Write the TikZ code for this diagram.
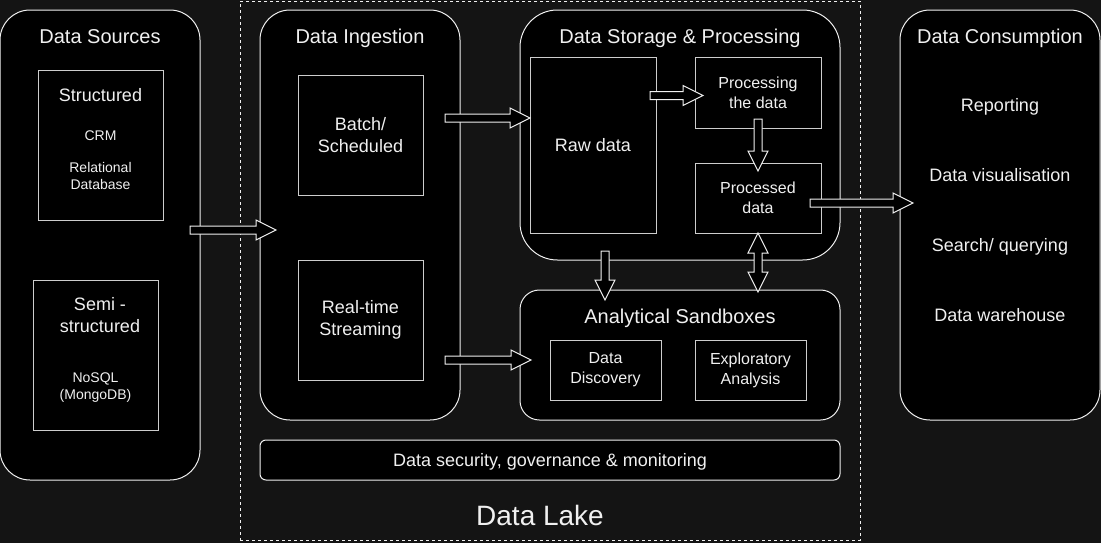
\documentclass[tikz,border=0pt]{standalone}
\usepackage{fontspec}
\setmainfont{Liberation Sans}
\usepackage{xcolor}
\usepackage{tikz}
\usetikzlibrary{calc, positioning}

\definecolor{bgdark}{RGB}{20,20,20}
\definecolor{lineW}{RGB}{240,240,240}
\definecolor{lineG}{RGB}{205,205,205}

\newcommand{\txtTitle}{\fontsize{15}{18}\selectfont}
\newcommand{\txtMain}{\fontsize{13.5}{16.4}\selectfont}
\newcommand{\txtMid}{\fontsize{12}{15}\selectfont}
\newcommand{\txtSmall}{\fontsize{10.5}{12.75}\selectfont}
\newcommand{\txtLake}{\fontsize{21}{25}\selectfont}

% block arrow from #1 to #2
\newcommand{\flowarrow}[2]{%
  \coordinate (fa-h) at ($(#2)!15pt!(#1)$);
  \draw[blockarrow] ($(#1)!3pt!90:(#2)$) -- ($(fa-h)!3pt!90:(#2)$)
    -- ($(fa-h)!7.5pt!90:(#2)$) -- (#2) -- ($(fa-h)!7.5pt!-90:(#2)$)
    -- ($(fa-h)!3pt!-90:(#2)$) -- ($(#1)!3pt!-90:(#2)$) -- cycle;
}
% block arrow with two heads
\newcommand{\flowarrowboth}[2]{%
  \coordinate (fa-h) at ($(#2)!15pt!(#1)$);
  \coordinate (fa-t) at ($(#1)!15pt!(#2)$);
  \draw[blockarrow] (#1) -- ($(fa-t)!7.5pt!90:(#2)$) -- ($(fa-t)!3pt!90:(#2)$)
    -- ($(fa-h)!3pt!90:(#2)$) -- ($(fa-h)!7.5pt!90:(#2)$) -- (#2)
    -- ($(fa-h)!7.5pt!-90:(#2)$) -- ($(fa-h)!3pt!-90:(#2)$)
    -- ($(fa-t)!3pt!-90:(#2)$) -- ($(fa-t)!7.5pt!-90:(#2)$) -- cycle;
}

\tikzset{
  groupbox/.style={draw=lineW, fill=black, line width=0.75pt, inner sep=0pt},
  itembox/.style={draw=lineG, fill=black, line width=0.75pt, inner sep=0pt,
    text=lineW, align=center},
  txt/.style={text=lineW, inner sep=0pt, align=center},
  blockarrow/.style={draw=lineW, fill=black, line width=0.75pt, line join=miter},
}

\begin{document}
\begin{tikzpicture}[x=0.75pt, y=-0.75pt]
    % Hintergrund
    \fill[bgdark] (0,0) rectangle (1101,543);
    \useasboundingbox (0,0) rectangle (1101,543);

    % Data Lake (gestrichelt)
    \node[draw=lineW, dash pattern=on 2.25pt off 2.25pt, line width=0.75pt,
          minimum width=465pt, minimum height=404.25pt] (lake) at (550,270.5) {};
    \node[txt, anchor=base, font=\txtLake] (lakeTitle) at (540,525) {Data Lake};

    % Gruppen
    \node[groupbox, rounded corners=22.5pt, minimum width=150pt, minimum height=352.5pt]
        (sources) at (100,245) {};
    \node[groupbox, rounded corners=22.5pt, minimum width=150pt, minimum height=307.5pt]
        (ingestion) at (360,215) {};
    \node[groupbox, rounded corners=28pt, minimum width=240pt, minimum height=187.5pt]
        (storage) at (680,135) {};
    \node[groupbox, rounded corners=14.6pt, minimum width=240pt, minimum height=97.5pt]
        (sandbox) at (680,355) {};
    \node[groupbox, rounded corners=22.5pt, minimum width=150pt, minimum height=307.5pt]
        (consumption) at (1000,215) {};
    \node[groupbox, rounded corners=4.5pt, minimum width=435pt, minimum height=30pt]
        (security) at (550,460) {};

    % Titel
    \node[txt, anchor=base, font=\txtTitle] (sourcesTitle) at (100,43) {Data Sources};
    \node[txt, anchor=base, font=\txtTitle] (ingestionTitle) at (360,43) {Data Ingestion};
    \node[txt, anchor=base, font=\txtTitle] (storageTitle) at (680,43) {Data Storage \& Processing};
    \node[txt, anchor=base, font=\txtTitle] (consumptionTitle) at (1000,43) {Data Consumption};
    \node[txt, anchor=base, font=\txtTitle] (sandboxTitle) at (680,323) {Analytical Sandboxes};
    \node[txt, anchor=base, font=\txtMain] (securityText) at (550,466)
        {Data security, governance \& monitoring};

    % Data Sources
    \node[itembox, minimum width=93.75pt, minimum height=112.5pt] (structured) at (100.5,145) {};
    \node[txt, anchor=base, font=\txtMain] (structuredTitle) at (100.5,101) {Structured};
    \node[txt, anchor=base, font=\txtSmall] (crm) at (100.5,140) {CRM};
    \node[txt, font=\txtSmall] (relational) at (100.5,175.5) {Relational\\Database};
    \node[itembox, minimum width=93.75pt, minimum height=112.5pt] (semi) at (95.5,355.5) {};
    \node[txt, font=\txtMain] (semiTitle) at (100,315) {Semi -\\structured};
    \node[txt, font=\txtSmall] (nosql) at (95.5,388) {NoSQL\\(MongoDB)};

    % Data Ingestion
    \node[itembox, font=\txtMain, minimum width=93.75pt, minimum height=90pt] (batch)
        at (360.5,135) {Batch/\\Scheduled};
    \node[itembox, font=\txtMain, minimum width=93.75pt, minimum height=90pt] (realtime)
        at (360.5,320) {Real-time\\Streaming};

    % Data Storage & Processing
    \node[itembox, font=\txtMain, minimum width=94.5pt, minimum height=132pt] (raw)
        at (593,145) {Raw data};
    \node[itembox, font=\txtMid, minimum width=94.5pt, minimum height=53.25pt] (processing)
        at (758,92.5) {Processing\\the data};
    \node[itembox, font=\txtMid, minimum width=94.5pt, minimum height=52.5pt] (processed)
        at (758,198) {Processed\\data};

    % Analytical Sandboxes
    \node[itembox, font=\txtMid, minimum width=83.25pt, minimum height=45pt] (discovery)
        at (605.5,370) {Data\\Discovery};
    \node[itembox, font=\txtMid, minimum width=83.25pt, minimum height=45pt] (exploratory)
        at (750.5,370) {Exploratory\\Analysis};

    % Data Consumption
    \node[txt, anchor=base, font=\txtMain] (reporting) at (1000,111) {Reporting};
    \node[txt, anchor=base, font=\txtMain] (visualisation) at (1000,181) {Data visualisation};
    \node[txt, anchor=base, font=\txtMain] (querying) at (1000,251) {Search/ querying};
    \node[txt, anchor=base, font=\txtMain] (warehouse) at (1000,321) {Data warehouse};

    % Pfeilenden
    \coordinate (srcOut) at (190,230);
    \coordinate (ingIn) at (276,230);
    \coordinate (batchOut) at (445,118);
    \coordinate (rawIn) at (530,118);
    \coordinate (streamOut) at (445,360);
    \coordinate (boxIn) at (531,360);
    \coordinate (rawOut) at (650,95.5);
    \coordinate (procIn) at (703,95.5);
    \coordinate (procOut) at (758,119);
    \coordinate (doneIn) at (758,171);
    \coordinate (doneOut) at (810,203);
    \coordinate (consIn) at (913,203);
    \coordinate (storeOut) at (605,251);
    \coordinate (sandIn) at (605,300);
    \coordinate (doneLow) at (758,233);
    \coordinate (sandTop) at (758,292);

    % Pfeile
    \flowarrow{srcOut}{ingIn}
    \flowarrow{batchOut}{rawIn}
    \flowarrow{streamOut}{boxIn}
    \flowarrow{rawOut}{procIn}
    \flowarrow{procOut}{doneIn}
    \flowarrow{doneOut}{consIn}
    \flowarrow{storeOut}{sandIn}
    \flowarrowboth{doneLow}{sandTop}
\end{tikzpicture}
\end{document}
